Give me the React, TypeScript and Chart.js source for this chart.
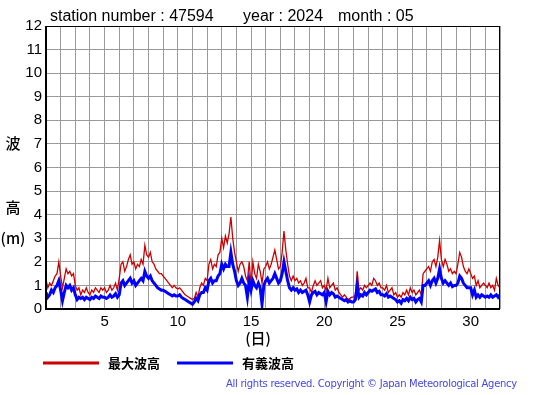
import React, { useEffect, useRef } from "react";
import { Chart, registerables } from "chart.js";
Chart.register(...registerables);

// 3-hourly samples, day 1.0 .. day 32.0
const STEPS_PER_DAY = 8;
const DAY_START = 1;
const DAY_END = 32;

const maxWave: number[] = [
  1.25, 0.9, 1.1, 1.0, 1.2, 1.4, 1.5, 2.0,
  1.4, 0.9, 1.3, 1.7, 1.5, 1.6, 1.4, 1.5,
  1.0, 0.8, 0.9, 0.6, 0.8, 0.7, 0.9, 0.7,
  0.6, 0.8, 0.7, 0.9, 0.8, 0.7, 0.9, 0.8,
  0.9, 0.7, 0.8, 1.0, 0.8, 0.9, 1.1, 0.8,
  1.3, 1.9, 2.0, 1.6, 1.8, 2.1, 2.3, 1.9,
  2.0, 1.7, 1.9, 1.8, 2.1, 1.9, 2.7, 2.3,
  2.2, 2.4, 2.0, 1.9, 1.7, 1.6, 1.5, 1.5,
  1.4, 1.3, 1.2, 1.1, 1.0, 0.9, 1.0, 0.9,
  0.85, 0.9, 0.8, 0.7, 0.6, 0.55, 0.5, 0.45,
  0.4, 0.45, 0.7, 0.5, 0.9, 1.1, 1.0, 1.3,
  1.2, 1.9, 2.1, 1.7, 1.9, 1.8, 2.3, 2.4,
  3.0, 2.6, 3.1, 2.8, 3.2, 3.9, 3.0, 2.4,
  2.0, 1.6, 1.9, 2.0, 1.8, 1.4, 1.2, 2.0,
  1.0, 2.0, 1.5, 1.3, 1.9, 1.6, 1.1, 1.7,
  1.8, 2.0, 1.7, 1.9, 2.2, 2.5, 2.1, 1.7,
  1.8, 2.4, 3.3, 2.5, 1.9, 1.4, 1.2, 1.4,
  1.2, 1.3, 1.1, 1.2, 1.0, 1.1, 1.3, 0.9,
  0.9, 0.7, 1.0, 1.2, 1.0, 1.1, 1.2, 0.9,
  1.0, 0.8, 1.3, 0.9, 1.0, 1.1, 0.8, 0.9,
  0.7, 0.6, 0.5, 0.6, 0.5, 0.4, 0.45, 0.5,
  0.5, 0.6, 1.6, 0.8, 0.9, 0.8, 1.0, 0.9,
  1.0, 1.1, 1.0, 1.3, 1.2, 1.0, 1.1, 0.9,
  0.9, 0.8, 1.0, 0.7, 0.8, 0.9, 0.6, 0.7,
  0.5, 0.6, 0.5, 0.7, 0.6, 0.8, 0.6, 0.9,
  0.7, 0.8, 0.6, 0.7, 0.8, 0.6, 1.5, 1.6,
  1.7, 1.8, 1.6, 2.0, 2.1, 1.8, 2.2, 2.9,
  2.1, 1.8, 2.1, 1.9, 1.6, 1.7, 1.5, 1.6,
  1.5, 1.9, 2.4, 2.2, 1.8, 1.6, 1.5, 1.7,
  1.5, 1.3, 1.4, 1.0, 1.2, 0.9, 1.0, 1.1,
  1.0, 0.9, 1.1, 0.9, 1.0, 0.8, 1.3, 1.0,
  0.9,
];

const sigWave: number[] = [
  0.7, 0.5, 0.6, 0.8, 0.7, 0.9, 1.0, 1.2,
  0.8, 0.35, 0.7, 1.0, 0.9, 1.0, 0.8, 0.9,
  0.6, 0.4, 0.5, 0.45, 0.5, 0.4, 0.5, 0.45,
  0.4, 0.5, 0.45, 0.55, 0.5, 0.45, 0.55, 0.5,
  0.5, 0.45, 0.5, 0.6, 0.5, 0.55, 0.65, 0.5,
  0.6, 1.1, 1.2, 1.0, 1.1, 1.2, 1.3, 1.1,
  1.2, 1.0, 1.1, 1.2, 1.3, 1.2, 1.6, 1.4,
  1.3, 1.4, 1.2, 1.1, 1.0, 0.9, 0.85, 0.8,
  0.8, 0.75, 0.7, 0.65, 0.6, 0.55, 0.6, 0.55,
  0.55, 0.6, 0.5, 0.45, 0.4, 0.35, 0.3, 0.25,
  0.2, 0.3, 0.45, 0.35, 0.6, 0.7, 0.7, 0.9,
  0.8, 1.2, 1.3, 1.1, 1.2, 1.2, 1.4, 1.5,
  1.9, 1.7, 1.9, 1.8, 1.8, 2.4, 1.9, 1.6,
  1.2, 1.0, 1.1, 1.3, 1.1, 1.0, 0.5, 1.2,
  0.8, 1.2, 1.0, 0.9, 1.1, 0.9, 0.2, 1.0,
  1.2, 1.3, 1.1, 1.2, 1.3, 1.5, 1.3, 1.1,
  1.2, 1.5, 2.0, 1.6, 1.2, 0.9, 0.8, 0.9,
  0.8, 0.85, 0.7, 0.8, 0.7, 0.75, 0.8, 0.6,
  0.3, 0.6, 0.7, 0.75, 0.6, 0.7, 0.65, 0.6,
  0.7, 0.3, 0.75, 0.6, 0.7, 0.65, 0.5, 0.55,
  0.5, 0.45, 0.4, 0.35, 0.4, 0.3, 0.35, 0.3,
  0.3, 0.4, 1.0, 0.5, 0.6, 0.55, 0.7, 0.6,
  0.7, 0.8, 0.75, 0.8, 0.85, 0.7, 0.75, 0.6,
  0.6, 0.55, 0.65, 0.5, 0.55, 0.5, 0.45, 0.4,
  0.3, 0.35, 0.25, 0.4, 0.35, 0.45, 0.35, 0.5,
  0.4, 0.45, 0.3, 0.4, 0.45, 0.3, 1.0, 1.0,
  1.1, 1.2, 1.0, 1.2, 1.3, 1.1, 1.3, 1.7,
  1.3, 1.1, 1.2, 1.1, 1.0, 1.1, 0.95, 1.0,
  1.0, 1.1, 1.4, 1.3, 1.1, 1.0, 0.9, 0.9,
  0.9, 0.6, 0.8, 0.5, 0.6, 0.5, 0.6, 0.55,
  0.5, 0.55, 0.5, 0.6, 0.5, 0.55, 0.6, 0.5,
  0.6,
];

const xLabelDays = [5, 10, 15, 20, 25, 30];
const yMin = 0;
const yMax = 12;

const titleParts = [
  { text: "station number : 47594", x: 50 },
  { text: "year : 2024", x: 243 },
  { text: "month : 05", x: 338 },
];
const legendItems = [
  { label: "最大波高", color: "#cc0000" },
  { label: "有義波高", color: "#0000ff" },
];
const copyright = "All rights reserved. Copyright © Japan Meteorological Agency";

const toPoints = (arr: number[]) =>
  arr.map((v, i) => ({ x: DAY_START + i / STEPS_PER_DAY, y: v }));

const extras = {
  id: "extras",
  afterDraw(chart: any) {
    const ctx = chart.ctx as CanvasRenderingContext2D;
    const { left, right, top, bottom } = chart.chartArea;
    ctx.save();
    // frame
    ctx.strokeStyle = "#000";
    ctx.lineWidth = 1;
    ctx.strokeRect(left + 0.5, top + 0.5, right - left - 1, bottom - top);
    ctx.lineWidth = 2;
    ctx.beginPath();
    ctx.moveTo(left, top);
    ctx.lineTo(left, bottom);
    ctx.lineTo(right, bottom);
    ctx.stroke();

    // title
    ctx.fillStyle = "#000";
    ctx.font = "16px 'Liberation Sans', Arial, sans-serif";
    ctx.textBaseline = "alphabetic";
    ctx.textAlign = "left";
    titleParts.forEach((p) => ctx.fillText(p.text, p.x, 21));

    // y axis title
    ctx.font = "500 15px 'Noto Sans CJK JP', sans-serif";
    ctx.textAlign = "center";
    ctx.textBaseline = "middle";
    ctx.fillText("波", 13, 143);
    ctx.fillText("高", 13, 207);
    ctx.fillText("(m)", 13, 238);

    // x axis title
    ctx.fillText("(日)", 258, 338);

    // legend
    ctx.textAlign = "left";
    ctx.font = "bold 13px 'Noto Sans CJK JP', sans-serif";
    const lx = [43, 177];
    legendItems.forEach((it, i) => {
      ctx.strokeStyle = it.color;
      ctx.lineWidth = 3;
      ctx.beginPath();
      ctx.moveTo(lx[i], 363);
      ctx.lineTo(lx[i] + 56, 363);
      ctx.stroke();
      ctx.fillStyle = "#000";
      ctx.fillText(it.label, lx[i] + 65, 363);
    });

    // copyright
    ctx.font = "10px 'DejaVu Sans', sans-serif";
    ctx.fillStyle = "#4646e6";
    const w = ctx.measureText(copyright).width;
    const target = 291;
    (ctx as any).letterSpacing = ((target - w) / copyright.length).toFixed(2) + "px";
    ctx.textAlign = "left";
    ctx.fillText(copyright, 226, 384);
    ctx.restore();
  },
};

export default function App() {
  const ref = useRef<HTMLCanvasElement>(null);
  useEffect(() => {
    if (!ref.current) return;
    const chart = new Chart(ref.current, {
      type: "line",
      data: {
        datasets: [
          {
            label: legendItems[1].label,
            data: toPoints(sigWave),
            borderColor: "#0000ff",
            borderWidth: 3,
            pointRadius: 0,
            tension: 0,
          },
          {
            label: legendItems[0].label,
            data: toPoints(maxWave),
            borderColor: "#cc0000",
            borderWidth: 1.3,
            pointRadius: 0,
            tension: 0,
          },
        ],
      },
      options: {
        animation: false,
        responsive: false,
        maintainAspectRatio: false,
        layout: { padding: { left: 0, top: 26, right: 55, bottom: 64 } },
        plugins: { legend: { display: false }, tooltip: { enabled: false }, title: { display: false } },
        scales: {
          x: {
            type: "linear",
            min: DAY_START,
            max: DAY_END,
            border: { display: false },
            grid: { color: "#9a9a9a", lineWidth: 1, drawTicks: false },
            ticks: {
              stepSize: 1,
              autoSkip: false,
              maxRotation: 0,
              padding: 4,
              color: "#000",
              font: { family: "'Liberation Sans', Arial, sans-serif", size: 15 },
              callback: (v: any) => (xLabelDays.includes(Number(v)) ? String(v) : ""),
            },
            afterFit: (s: any) => {
              s.height = 22;
              s.paddingLeft = 0;
              s.paddingRight = 0;
            },
          },
          y: {
            min: yMin,
            max: yMax,
            border: { display: false },
            grid: { color: "#9a9a9a", lineWidth: 1, drawTicks: false },
            ticks: {
              stepSize: 1,
              padding: 4,
              color: "#000",
              font: { family: "'Liberation Sans', Arial, sans-serif", size: 15 },
            },
            afterFit: (s: any) => {
              s.width = 46;
              s.paddingTop = 0;
              s.paddingBottom = 0;
            },
          },
        },
      },
      plugins: [extras],
    });
    return () => chart.destroy();
  }, []);
  return (
    <div style={{ position: "absolute", left: 0, top: 0, width: 555, height: 395, background: "#fff" }}>
      <canvas ref={ref} width={555} height={395} style={{ width: 555, height: 395 }} />
    </div>
  );
}
